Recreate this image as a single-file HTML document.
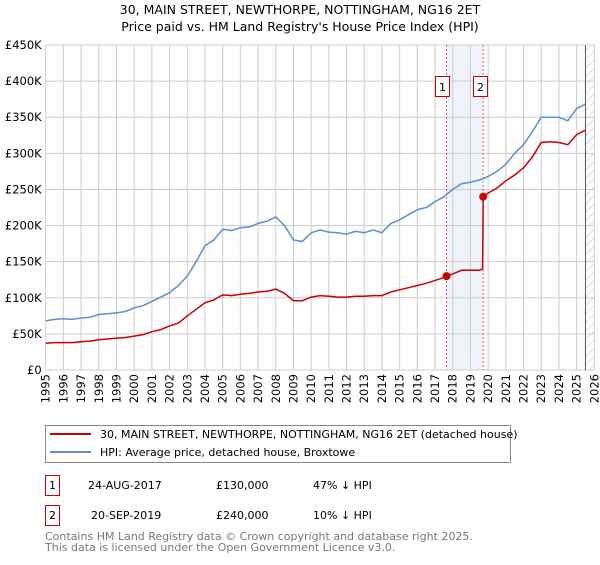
<!DOCTYPE html>
<html><head><meta charset="utf-8"><style>
body{margin:0;background:#fff;font-family:"Liberation Sans","DejaVu Sans",sans-serif;}
svg text{font-family:"DejaVu Sans","Liberation Sans",sans-serif;}
</style></head><body>
<svg id="chart" width="600" height="560" viewBox="0 0 600 560" xmlns="http://www.w3.org/2000/svg">
<defs><pattern id="hatch" width="6" height="6" patternUnits="userSpaceOnUse" patternTransform="rotate(45)"><line x1="0" y1="0" x2="0" y2="6" stroke="#bbb" stroke-width="1"/></pattern></defs>
<text x="300" y="14" text-anchor="middle" font-size="12.5">30, MAIN STREET, NEWTHORPE, NOTTINGHAM, NG16 2ET</text>
<text x="300" y="31" text-anchor="middle" font-size="12.5">Price paid vs. HM Land Registry's House Price Index (HPI)</text>
<g id="grid"></g><g id="marks"></g>
<g>
<rect x="45.5" y="425.5" width="465" height="37" fill="#fff" stroke="#888"/>
<line x1="50" y1="434" x2="91" y2="434" stroke="#cc0000" stroke-width="2"/>
<text x="100" y="438" font-size="11">30, MAIN STREET, NEWTHORPE, NOTTINGHAM, NG16 2ET (detached house)</text>
<line x1="50" y1="452" x2="91" y2="452" stroke="#5b8ed6" stroke-width="2"/>
<text x="100" y="456" font-size="11">HPI: Average price, detached house, Broxtowe</text>
</g>
<g font-size="11">
<rect x="45.5" y="475.5" width="14" height="20" fill="#fff" stroke="#cc0000"/><text x="52.5" y="489" text-anchor="middle">1</text>
<text x="88" y="489">24-AUG-2017</text><text x="216" y="489">£130,000</text><text x="313" y="489">47% ↓ HPI</text>
<rect x="45.5" y="505.5" width="14" height="20" fill="#fff" stroke="#cc0000"/><text x="52.5" y="519" text-anchor="middle">2</text>
<text x="91" y="519">20-SEP-2019</text><text x="216" y="519">£240,000</text><text x="313" y="519">10% ↓ HPI</text>
</g>
<text x="45" y="540" font-size="11" fill="#777">Contains HM Land Registry data © Crown copyright and database right 2025.</text>
<text x="45" y="551" font-size="11" fill="#777">This data is licensed under the Open Government Licence v3.0.</text>
</svg>
<script>
const hpiYears=[1995,1995.5,1996,1996.5,1997,1997.5,1998,1998.5,1999,1999.5,2000,2000.5,2001,2001.5,2002,2002.5,2003,2003.5,2004,2004.5,2005,2005.5,2006,2006.5,2007,2007.5,2008,2008.5,2009,2009.5,2010,2010.5,2011,2011.5,2012,2012.5,2013,2013.5,2014,2014.5,2015,2015.5,2016,2016.5,2017,2017.5,2018,2018.5,2019,2019.5,2020,2020.5,2021,2021.5,2022,2022.5,2023,2023.5,2024,2024.5,2025,2025.5];
const hpiValues=[68,70,71,70,72,73,77,78,79,81,86,89,95,101,107,117,130,150,172,180,195,193,197,198,203,206,212,200,180,178,190,194,191,190,188,192,190,194,190,203,208,215,222,225,233,240,250,258,260,263,268,275,285,300,312,330,350,350,350,345,362,368];
const propYears=[1995,1995.5,1996,1996.5,1997,1997.5,1998,1998.5,1999,1999.5,2000,2000.5,2001,2001.5,2002,2002.5,2003,2003.5,2004,2004.5,2005,2005.5,2006,2006.5,2007,2007.5,2008,2008.5,2009,2009.5,2010,2010.5,2011,2011.5,2012,2012.5,2013,2013.5,2014,2014.5,2015,2015.5,2016,2016.5,2017,2017.5,2017.65,2018,2018.5,2019,2019.5,2019.69,2019.72,2020,2020.5,2021,2021.5,2022,2022.5,2023,2023.5,2024,2024.5,2025,2025.5];
const propValues=[37,38,38,38,39,40,42,43,44,45,47,49,53,56,61,65,75,84,93,97,104,103,105,106,108,109,112,106,96,96,101,103,102,101,101,102,102,103,103,108,111,114,117,120,124,128,130,133,138,138,138,140,240,245,252,262,270,280,295,315,316,315,312,326,332];
const saleYears=[2017.65,2019.72];
const saleValues=[130,240];
const saleLabels=["1","2"];
const yTicks=[0,50,100,150,200,250,300,350,400,450];
const yTickLabels=["£0","£50K","£100K","£150K","£200K","£250K","£300K","£350K","£400K","£450K"];
const xTicks=[];for(let y=1995;y<=2026;y++)xTicks.push(y);

const X0=45.7,X1=594.3,Y0=370,Y1=45;
const xs=v=>X0+(v-1995)/(2026-1995)*(X1-X0);
const ys=v=>Y0-v/450*(Y0-Y1);
const NS="http://www.w3.org/2000/svg";
const grid=document.getElementById('grid'),marks=document.getElementById('marks');
function mk(tag,attrs,parent){const e=document.createElementNS(NS,tag);for(const k in attrs)e.setAttribute(k,attrs[k]);parent.appendChild(e);return e;}
let sh=mk('rect',{x:xs(saleYears[0]),y:Y1,width:xs(saleYears[1])-xs(saleYears[0]),height:Y0-Y1,fill:'#eef3fc'},grid);


let ht=mk('rect',{x:xs(2025.5),y:Y1,width:X1-xs(2025.5),height:Y0-Y1,fill:'url(#hatch)'},grid);


yTicks.forEach((t,i)=>{
 mk('line',{x1:X0,x2:X1,y1:ys(t),y2:ys(t),stroke:'#ccc'},grid);
 const tx=mk('text',{x:X0-4,y:ys(t)+4,'text-anchor':'end','font-size':'11.5'},grid);tx.textContent=yTickLabels[i];
 
 
});
xTicks.forEach(t=>{
 mk('line',{x1:xs(t),x2:xs(t),y1:Y1,y2:Y0,stroke:'#ccc'},grid);
 const tx=mk('text',{x:0,y:0,'text-anchor':'end','font-size':'11.5',transform:`translate(${xs(t)+4},${Y0+4}) rotate(-90)`},grid);tx.textContent=t;
 
 
});
let el=mk('line',{x1:xs(2025.5),x2:xs(2025.5),y1:Y1,y2:Y0,stroke:'#555'},grid);
saleYears.forEach(s=>{let l=mk('line',{x1:xs(s),x2:xs(s),y1:Y1,y2:Y0,stroke:'#e06060','stroke-dasharray':'2,2'},grid);
 
 });
const pts=(xa,va)=>xa.map((x,i)=>xs(x).toFixed(1)+','+ys(va[i]).toFixed(1)).join(' ');
let hp=mk('polyline',{points:pts(hpiYears,hpiValues),fill:'none',stroke:'#5b8ed6','stroke-width':1.5},marks);


let pp=mk('polyline',{points:pts(propYears,propValues),fill:'none',stroke:'#cc0000','stroke-width':1.5},marks);


saleYears.forEach((s,i)=>{
 let c=mk('circle',{cx:xs(s),cy:ys(saleValues[i]),r:4,fill:'#cc0000'},marks);
 
 
 const bx=xs(s)-(i==0?11.5:10.5);
 let b=mk('rect',{x:Math.round(bx)+0.5,y:76.5,width:14,height:20,fill:'#fff',stroke:'#cc0000'},marks);
 
 
 let t=mk('text',{x:Math.round(bx)+7.5,y:91,'text-anchor':'middle','font-size':'11'},marks);t.textContent=saleLabels[i];
 
 
});
</script>
</body></html>
